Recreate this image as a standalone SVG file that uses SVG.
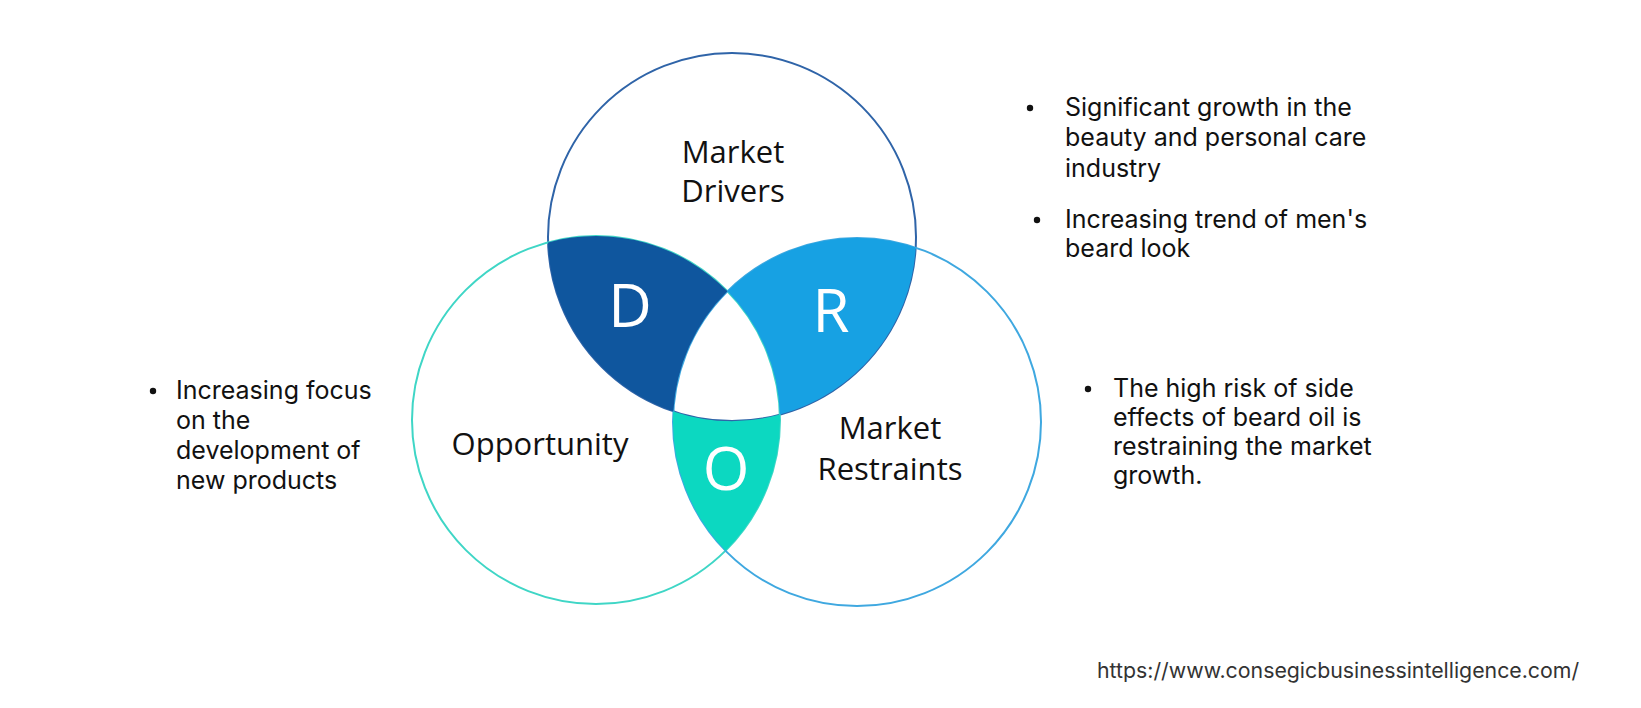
<svg xmlns="http://www.w3.org/2000/svg" width="1641" height="708" viewBox="0 0 1641 708">
  <style>
    .ring { fill: none; stroke-width: 2; }
    .lbl { font-family: "Open Sans", "Noto Sans", sans-serif; font-size: 31px; fill: #111111; text-anchor: middle; }
    .big { font-family: "Open Sans", "Noto Sans", sans-serif; font-size: 60px; fill: #ffffff; text-anchor: middle; }
    .bul { font-family: Inter, "Liberation Sans", sans-serif; font-size: 25px; fill: #111111; }
    .url { font-family: Inter, "Liberation Sans", sans-serif; font-size: 21.3px; fill: #333333; }
  </style>
  <rect width="1641" height="708" fill="#ffffff"/>

  <g id="drivers-circle">
    <circle class="ring" cx="732" cy="237" r="184" stroke="#2F64A8"/>
    <text class="lbl" x="733" y="163">Market</text>
    <text class="lbl" x="733" y="202">Drivers</text>
  </g>
  <g id="opportunity-circle">
    <circle class="ring" cx="596" cy="420" r="184" stroke="#3FD6C6"/>
    <text class="lbl" x="540" y="455">Opportunity</text>
  </g>
  <g id="restraints-circle">
    <circle class="ring" cx="857" cy="422" r="184" stroke="#3FA8E0"/>
    <text class="lbl" x="890" y="439">Market</text>
    <text class="lbl" x="890" y="480">Restraints</text>
  </g>

  <g id="region-D">
    <path d="M548.1,242.4 A184,184 0 0 1 727.5,291.3 A184,184 0 0 0 673.3,411.4 A184,184 0 0 1 548.1,242.4 Z" fill="#0F569E"/>
    <text class="big" x="630" y="327">D</text>
  </g>
  <g id="region-R">
    <path d="M727.5,291.3 A184,184 0 0 1 915.7,247.6 A184,184 0 0 1 779.9,414.6 A184,184 0 0 0 727.5,291.3 Z" fill="#17A1E3"/>
    <text class="big" x="831" y="332">R</text>
  </g>
  <g id="region-O">
    <path d="M673.3,411.4 A184,184 0 0 0 779.9,414.6 A184,184 0 0 1 725.5,550.7 A184,184 0 0 1 673.3,411.4 Z" fill="#0CD8C1"/>
    <text class="big" x="726" y="490">O</text>
  </g>

  <g id="connectors"></g>

  <g id="drivers-notes">
    <circle cx="1030" cy="108" r="3.2" fill="#111111"/>
    <text class="bul" x="1065" y="116">Significant growth in the</text>
    <text class="bul" x="1065" y="146">beauty and personal care</text>
    <text class="bul" x="1065" y="177">industry</text>
    <circle cx="1037" cy="220" r="3.2" fill="#111111"/>
    <text class="bul" x="1065" y="228">Increasing trend of men's</text>
    <text class="bul" x="1065" y="257">beard look</text>
  </g>
  <g id="restraints-notes">
    <circle cx="1088" cy="389" r="3.2" fill="#111111"/>
    <text class="bul" x="1113" y="397">The high risk of side</text>
    <text class="bul" x="1113" y="426">effects of beard oil is</text>
    <text class="bul" x="1113" y="455">restraining the market</text>
    <text class="bul" x="1113" y="484">growth.</text>
  </g>
  <g id="opportunity-notes">
    <circle cx="153" cy="391" r="3.2" fill="#111111"/>
    <text class="bul" x="176" y="399">Increasing focus</text>
    <text class="bul" x="176" y="429">on the</text>
    <text class="bul" x="176" y="459">development of</text>
    <text class="bul" x="176" y="489">new products</text>
  </g>
  <g id="source">
    <text class="url" x="1097" y="678">https://www.consegicbusinessintelligence.com/</text>
  </g>
</svg>
